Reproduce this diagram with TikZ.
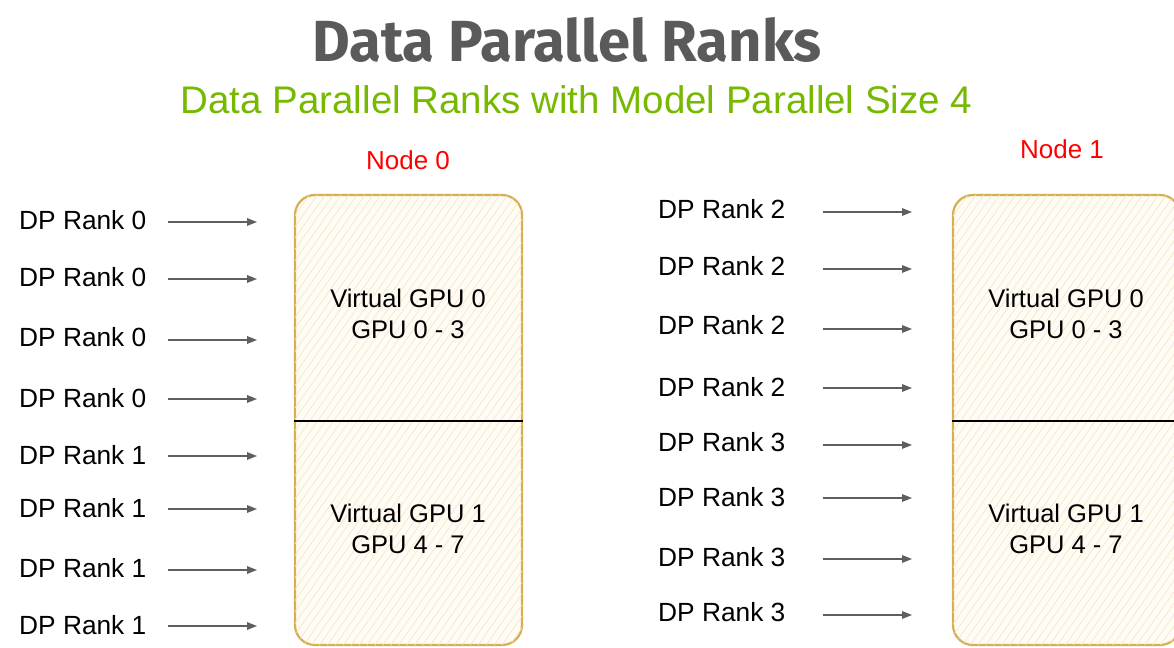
\documentclass[tikz,border=0pt]{standalone}
\usepackage{fontspec}
\setmainfont{Liberation Sans}
\newfontfamily\headfont{Fira Sans}
\usetikzlibrary{arrows.meta,patterns.meta}
\definecolor{titlegray}{HTML}{5A5A5A}
\definecolor{nvgreen}{HTML}{76B900}
\definecolor{boxedge}{HTML}{D6B050}
\definecolor{boxfill}{HTML}{FFFCF6}
\definecolor{hatch}{HTML}{F7E6C6}
\definecolor{arrowgray}{HTML}{5F5F5F}
\tikzset{
  rank/.style={anchor=west, inner sep=0pt, font=\fontsize{26.3bp}{30bp}\selectfont},
  gpulabel/.style={align=center, inner sep=0pt, font=\fontsize{25.5bp}{31bp}\selectfont},
  nodelabel/.style={inner sep=0pt, text=red, font=\fontsize{26bp}{30bp}\selectfont},
  gpubox/.style={draw=boxedge, line width=2.2bp, rounded corners=20bp,
    fill=boxfill, minimum width=227bp, minimum height=450bp, inner sep=0pt,
    postaction={pattern={Lines[angle=55,distance=6.5bp,line width=0.7bp]}, pattern color=hatch}},
  feed/.style={draw=arrowgray, line width=1.4bp, -{Triangle[length=10bp,width=7.5bp]}},
  divider/.style={draw=black, line width=1.2bp}
}
\begin{document}
\begin{tikzpicture}[x=1bp,y=-1bp]
\useasboundingbox (0,0) rectangle (1174,648);
\fill[white] (0,0) rectangle (1174,648);

% headings
\node[text=titlegray, font=\headfont\bfseries\fontsize{58bp}{62bp}\selectfont] (title) at (567,40) {Data Parallel Ranks};
\node[text=nvgreen, font=\fontsize{38.5bp}{42bp}\selectfont] (subtitle) at (576.5,100) {Data Parallel Ranks with Model Parallel Size 4};

\begin{scope}
\clip (0,0) rectangle (1174,648);
% machine boxes
\node[gpubox] (box0) at (408.5,420) {};
\node[gpubox] (box1) at (1066.5,420) {};
\draw[divider] ([yshift=-1bp]box0.west) -- ([yshift=-1bp]box0.east);
\draw[divider] ([yshift=-1bp]box1.west) -- ([yshift=-1bp]box1.east);
\end{scope}

\node[nodelabel] (node0) at (408,160) {Node 0};
\node[nodelabel] (node1) at (1062,149) {Node 1};

\node[gpulabel] (v00) at (408,314) {Virtual GPU 0\\GPU 0 - 3};
\node[gpulabel] (v01) at (408,529) {Virtual GPU 1\\GPU 4 - 7};
\node[gpulabel] (v10) at (1066,314) {Virtual GPU 0\\GPU 0 - 3};
\node[gpulabel] (v11) at (1066,529) {Virtual GPU 1\\GPU 4 - 7};

% ranks feeding node 0
\foreach \i/\r/\ly/\ay in {1/0/220/222, 2/0/277/279, 3/0/337/340, 4/0/398/399,
                           5/1/455/456, 6/1/508/509, 7/1/568/570, 8/1/625/626} {
  \node[rank] (a\i) at (19,\ly) {DP Rank \r};
  \coordinate (ta\i) at (257,\ay);
  \draw[feed] (a\i.east |- ta\i) ++(21,0) -- (ta\i);
}
% ranks feeding node 1
\foreach \i/\r/\ly/\ay in {1/2/209/212, 2/2/266/269, 3/2/325/329, 4/2/387/388,
                           5/3/442/445, 6/3/497/498, 7/3/557/559, 8/3/612/615} {
  \node[rank] (b\i) at (658,\ly) {DP Rank \r};
  \coordinate (tb\i) at (912,\ay);
  \draw[feed] (b\i.east |- tb\i) ++(37,0) -- (tb\i);
}
\end{tikzpicture}
\end{document}
